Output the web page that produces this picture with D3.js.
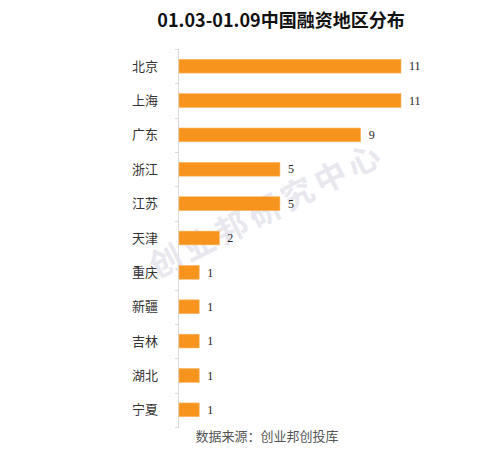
<!DOCTYPE html>
<html>
<head>
<meta charset="utf-8">
<script src="https://cdn.jsdelivr.net/npm/d3@7"></script>
<style>
  html, body { margin: 0; padding: 0; background: #fff; }
</style>
</head>
<body>
<div id="svgcontainer"></div>
<script>
// --- data ---
var regions = ["北京", "上海", "广东", "浙江", "江苏", "天津", "重庆", "新疆", "吉林", "湖北", "宁夏"];
var counts = [11, 11, 9, 5, 5, 2, 1, 1, 1, 1, 1];
var title = "01.03-01.09中国融资地区分布";
var source = "数据来源：创业邦创投库";
var watermark = "创业邦研究中心";

var width = 497;
var height = 453;
var margin = ({top: 49, right: 96, bottom: 26, left: 179});
var bar_color = "#F7941E";

var svg = d3.select("#svgcontainer").append("svg")
  .attr("width", width).attr("height", height)
  .attr("viewBox", [0, 0, width, height]);

var x = d3.scaleLinear().domain([0, 11]).range([margin.left, width - margin.right]);
var y = d3.scaleBand().domain(regions).range([margin.top, height - margin.bottom]).paddingInner(0.6).paddingOuter(0.3);

// title
svg.append("text")
  .attr("x", 281).attr("y", 27)
  .attr("text-anchor", "middle")
  .attr("font-family", "'Noto Sans CJK SC', sans-serif")
  .attr("font-weight", "bold")
  .attr("font-size", 18)
  .attr("fill", "#111")
  .text(title);

// axis line with ticks between categories
var axis = svg.append("g");
axis.append("line")
  .attr("x1", margin.left - 0.5).attr("x2", margin.left - 0.5)
  .attr("y1", margin.top).attr("y2", height - margin.bottom)
  .attr("stroke", "#d9d9d9");
d3.range(regions.length + 1).forEach(function(i){
  var yy = Math.round(margin.top + i * (height - margin.top - margin.bottom) / regions.length) + 0.5;
  axis.append("line")
    .attr("x1", margin.left - 4).attr("x2", margin.left)
    .attr("y1", yy).attr("y2", yy)
    .attr("stroke", "#d9d9d9");
});

// category labels
svg.append("g").selectAll("text").data(regions).join("text")
  .attr("x", 158)
  .attr("y", function(d){ return y(d) + y.bandwidth() / 2; })
  .attr("dy", "0.35em")
  .attr("text-anchor", "end")
  .attr("font-family", "'Noto Sans CJK SC', sans-serif")
  .attr("font-size", 13)
  .attr("fill", "#333")
  .text(function(d){ return d; });

// watermark (sits under the bars)
svg.append("text")
  .attr("transform", "translate(267,210) rotate(-27)")
  .attr("text-anchor", "middle")
  .attr("dy", "0.35em")
  .attr("font-family", "'Noto Sans CJK SC', sans-serif")
  .attr("font-weight", "bold")
  .attr("font-size", 32)
  .attr("letter-spacing", 5)
  .attr("fill", "#e4e4ec")
  .attr("fill-opacity", 0.85)
  .text(watermark);

// bars
svg.append("g").selectAll("rect").data(counts).join("rect")
  .attr("x", x(0))
  .attr("y", function(d, i){ return y(regions[i]); })
  .attr("width", function(d){ return x(d) - x(0); })
  .attr("height", y.bandwidth())
  .attr("fill", bar_color)
  .attr("stroke", "#FBB35E")
  .attr("stroke-width", 0.6);

// value labels
svg.append("g").selectAll("text").data(counts).join("text")
  .attr("x", function(d){ return x(d) + 8; })
  .attr("y", function(d, i){ return y(regions[i]) + y.bandwidth() / 2; })
  .attr("dy", "0.35em")
  .attr("font-family", "'Liberation Serif', serif")
  .attr("font-size", 12)
  .attr("fill", "#222")
  .text(function(d){ return d; });

// source
svg.append("text")
  .attr("x", 267).attr("y", 441)
  .attr("text-anchor", "middle")
  .attr("font-family", "'Noto Sans CJK SC', sans-serif")
  .attr("font-size", 13)
  .attr("fill", "#555")
  .text(source);
</script>
</body>
</html>
